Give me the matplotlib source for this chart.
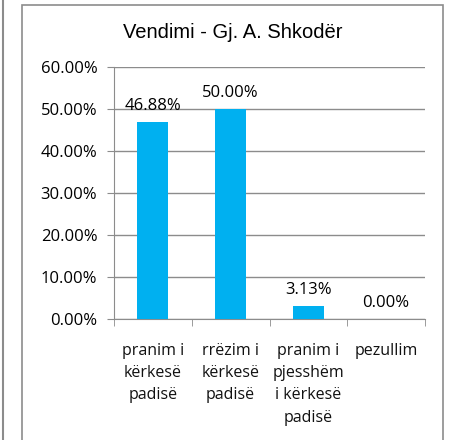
import matplotlib.pyplot as plt
from matplotlib.patches import Rectangle
from matplotlib.lines import Line2D
from matplotlib.ticker import FuncFormatter

# data
categories = ["pranim i\nkërkesë\npadisë", "rrëzim i\nkërkesë\npadisë",
              "pranim i\npjesshëm\ni kërkesë\npadisë", "pezullim"]
values = [46.88, 50.00, 3.13, 0.00]
yticks = [0, 10, 20, 30, 40, 50, 60]
title = "Vendimi - Gj. A. Shkodër"

W, H = 449, 440
fig = plt.figure(figsize=(W / 100, H / 100), dpi=100)
fig.patch.set_facecolor("white")

# outer frame and the stray line at the left edge
fig.add_artist(Line2D([2.5 / W, 2.5 / W], [0, 1], color="#8c8c8c", lw=1.5))
fig.add_artist(Rectangle((22 / W, -0.05), (443 - 22) / W, (H - 5) / H + 0.05,
                         fill=False, edgecolor="#8c8c8c", lw=1.2))

ax = fig.add_axes([114 / W, (H - 319) / H, (425 - 114) / W, (319 - 67) / H])
x = range(len(categories))
bars = ax.bar(x, values, width=0.4, color="#00B0F0", zorder=3)

ax.set_xlim(-0.5, len(categories) - 0.5)
ax.set_ylim(0, 60)
ax.set_yticks(yticks)
ax.yaxis.set_major_formatter(FuncFormatter(lambda v, p: f"{v:.2f}%"))
ax.grid(axis="y", color="#8c8c8c", lw=1, zorder=0)
ax.set_axisbelow(True)

for s in ["top", "right"]:
    ax.spines[s].set_visible(False)
for s in ["left", "bottom"]:
    ax.spines[s].set_color("#8c8c8c")

ax.set_xticks(x)
ax.set_xticklabels(categories, fontsize=11.5, family="Open Sans", linespacing=1.53)
ax.tick_params(axis="x", length=0, pad=17, labelcolor="#111111")
ax.set_xticks([i - 0.5 for i in range(len(categories) + 1)], minor=True)
ax.tick_params(axis="x", which="minor", length=5, color="#8c8c8c")
ax.tick_params(axis="y", length=5, color="#8c8c8c", labelsize=12, pad=7)
for lab in ax.get_yticklabels():
    lab.set_family("Open Sans")

for b, v in zip(bars, values):
    ax.annotate(f"{v:.2f}%", (b.get_x() + b.get_width() / 2, v),
                xytext=(0, 6), textcoords="offset points",
                ha="center", va="bottom", fontsize=12, family="Open Sans")

fig.text(233 / W, 1 - 33 / H, title, ha="center", va="center",
         fontsize=14.5, family="Liberation Sans")

fig.savefig("out.png", dpi=100)
